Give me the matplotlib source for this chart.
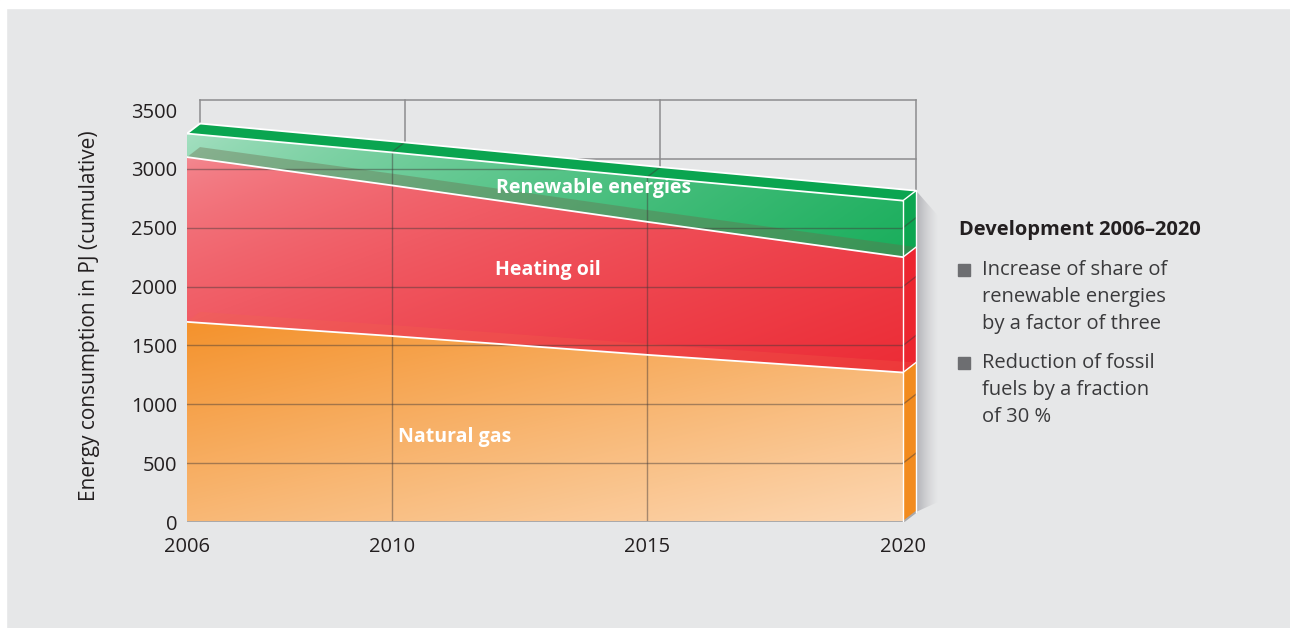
import matplotlib
matplotlib.use("Agg")
import matplotlib.pyplot as plt
import numpy as np
from matplotlib.patches import Polygon, Rectangle
from matplotlib.colors import to_rgba

plt.rcParams['font.family'] = ['Open Sans', 'DejaVu Sans']

# data (PJ, stacked)
years = [2006, 2010, 2015, 2020]
natural_gas = [1700, 1580, 1420, 1270]
heating_oil = [1400, 1280, 1130, 980]
renewables = [200, 280, 380, 480]
series_names = ['Natural gas', 'Heating oil', 'Renewable energies']
y_ticks = [0, 500, 1000, 1500, 2000, 2500, 3000, 3500]
x_ticks = [2006, 2010, 2015, 2020]
y_label = 'Energy consumption in PJ (cumulative)'
panel_title = 'Development 2006–2020'
bullets = [['Increase of share of', 'renewable energies', 'by a factor of three'],
           ['Reduction of fossil', 'fuels by a fraction', 'of 30 %']]

# styles: (front start, front end, gradient weights x/y, gamma), top face (colour, alpha), side face
front_styles = [('#f4922c', '#fcd7b2', 0.45, 0.55, 1.0),
                ('#f48a92', '#ec2c36', 0.55, 0.45, 0.65),
                ('#a6e0c2', '#1aae5c', 0.8, 0.2, 0.75)]
top_faces = [('#f36a4a', 0.22), ('#6a6a4a', 0.38), ('#0aa550', 1.0)]
side_colors = ['#f28b1e', '#ec2630', '#0ca651']
label_pos = [(2011.24, 722), (2013.06, 2141), (2013.94, 2837)]
text_col = '#231f20'

W, H = 1290, 628
px_year = 716 / 14
px_unit = 412 / 3500
DX = 13 / px_year
DY = 10 / px_unit


def gradient_fill(ax, verts, c_start, c_end, wx, wy, z, alpha=1.0, gamma=1.0):
    verts = np.asarray(verts, dtype=float)
    x0, y0 = verts.min(axis=0)
    x1, y1 = verts.max(axis=0)
    poly = Polygon(verts, closed=True, facecolor='none', edgecolor='none')
    ax.add_patch(poly)
    U, V = np.meshgrid(np.linspace(0, 1, 200), np.linspace(1, 0, 200))
    t = wx * U + wy * (1 - V)
    t = ((t - t.min()) / (t.max() - t.min())) ** gamma
    c0 = np.array(to_rgba(c_start))
    c1 = np.array(to_rgba(c_end))
    img = c0 + (c1 - c0) * t[..., None]
    img[..., 3] *= alpha
    im = ax.imshow(img, extent=(x0, x1, y0, y1), origin='upper', aspect='auto',
                   zorder=z, interpolation='bilinear')
    im.set_clip_path(poly)
    return poly


fig = plt.figure(figsize=(W / 100, H / 100), dpi=100, facecolor='#e6e7e8')
fig.patches.append(Rectangle((0, 1 - 8 / H), 1, 8 / H, transform=fig.transFigure,
                             color='white', zorder=0))
fig.patches.append(Rectangle((0, 0), 6 / W, 1, transform=fig.transFigure,
                             color='white', zorder=0))

ax = fig.add_axes([187 / W, (H - 522) / H, (960 - 187) / W, (522 - 85) / H])
xlim = (2006, 2006 + (960 - 187) / px_year)
ylim = (0, (522 - 85) / px_unit)
ax.set_facecolor('none')
for s in ax.spines.values():
    s.set_visible(False)

x = np.array(years, dtype=float)
layers = [np.array(natural_gas), np.array(heating_oil), np.array(renewables)]
cum = np.cumsum(layers, axis=0)
total = cum[-1]

# back wall
grid_col = '#8c8c8e'
for v in y_ticks[1:]:
    ax.plot([x[0] + DX, x[-1] + DX], [v + DY, v + DY], color=grid_col, lw=1.1, zorder=1)
for yr in x_ticks:
    ax.plot([yr + DX, yr + DX], [DY, y_ticks[-1] + DY], color=grid_col, lw=1.1, zorder=1)

# shadow to the right of the block
sh = [(x[-1] + DX, DY), (x[-1] + DX + 22 / px_year, DY + 10 / px_unit),
      (x[-1] + DX + 22 / px_year, total[-1] + DY - 25 / px_unit), (x[-1] + DX, total[-1] + DY)]
gradient_fill(ax, sh, (0.55, 0.55, 0.58, 0.6), (0.7, 0.7, 0.72, 0.0), 1, 0, 2)

# stacked prism layers
for i, vals in enumerate(layers):
    lo = cum[i] - vals
    hi = cum[i]
    c0, c1, wx, wy, gam = front_styles[i]
    front = list(zip(x, hi)) + list(zip(x[::-1], lo[::-1]))
    gradient_fill(ax, front, c0, c1, wx, wy, 10 + i, gamma=gam)
    # top face; lower ones show through the layer above
    top = list(zip(x, hi)) + list(zip(x[::-1] + DX, hi[::-1] + DY))
    tc, ta = top_faces[i]
    ax.add_patch(Polygon(top, closed=True, facecolor=tc, alpha=ta, edgecolor='none',
                         zorder=20 + i))
    side = [(x[-1], lo[-1]), (x[-1] + DX, lo[-1] + DY), (x[-1] + DX, hi[-1] + DY), (x[-1], hi[-1])]
    ax.add_patch(Polygon(side, closed=True, facecolor=side_colors[i], edgecolor='none',
                         zorder=15 + i))

# grid seen through the translucent block
outline = list(zip(x, total)) + [(x[-1], 0), (x[0], 0)]
clip = Polygon(outline, closed=True, facecolor='none', edgecolor='none')
ax.add_patch(clip)
front_grid = (0.25, 0.22, 0.22, 0.45)
for v in y_ticks[1:-1]:
    ln, = ax.plot([x[0], x[-1]], [v, v], color=front_grid, lw=1, zorder=25)
    ln.set_clip_path(clip)
    if v < total[-1]:
        ax.plot([x[-1], x[-1] + DX], [v, v + DY], color=front_grid, lw=1, zorder=25)
for yr in x_ticks[1:-1]:
    top_here = np.interp(yr, x, total)
    ax.plot([yr, yr], [0, top_here], color=front_grid, lw=1, zorder=25)
    ax.plot([yr, yr + DX], [top_here, top_here + DY], color=front_grid, lw=1, zorder=25)

# white edges
edge = dict(color='white', lw=1.3, zorder=28, solid_capstyle='round')
for i in range(len(layers)):
    ax.plot(x, cum[i], **edge)
    ax.plot([x[-1], x[-1] + DX], [cum[i][-1], cum[i][-1] + DY], color='white', lw=1, zorder=28)
ax.plot(x + DX, total + DY, **edge)
ax.plot([x[0], x[0] + DX], [total[0], total[0] + DY], **edge)
ax.plot([x[-1], x[-1]], [0, total[-1]], color='white', lw=1, zorder=28)
ax.plot([x[-1] + DX, x[-1] + DX], [DY, total[-1] + DY], color='white', lw=1, zorder=28)
ax.plot([x[0], x[-1], x[-1] + DX], [0, 0, DY], color='#a9a9ab', lw=1.4, zorder=27)

for name, (lx, ly) in zip(series_names, label_pos):
    ax.text(lx, ly, name, color='white', fontsize=14, fontweight='bold',
            ha='center', va='center', zorder=30)

ax.set_xlim(*xlim)
ax.set_ylim(*ylim)
ax.set_yticks(y_ticks)
ax.set_yticklabels([str(v) for v in y_ticks])
ax.set_xticks(x_ticks)
ax.set_xticklabels([str(v) for v in x_ticks])
ax.tick_params(axis='y', length=0, pad=7, labelsize=14.5, labelcolor=text_col)
ax.tick_params(axis='x', length=0, pad=11, labelsize=14.5, labelcolor=text_col)

fig.text(90 / W, 1 - 316 / H, y_label, rotation=90, ha='center', va='center',
         fontsize=15, color=text_col)

# side panel
fig.text(959 / W, 1 - 230 / H, panel_title, fontsize=14.5, fontweight='bold',
         color=text_col, ha='left', va='center')
line_y = 270
for group in bullets:
    fig.patches.append(Rectangle((958 / W, 1 - (line_y + 6) / H), 12 / W, 12 / H,
                                 transform=fig.transFigure, color='#6d6e71'))
    for line in group:
        fig.text(982 / W, 1 - line_y / H, line, fontsize=14.5, color='#3a3a3c',
                 ha='left', va='center')
        line_y += 27
    line_y += 12

fig.savefig('out.png', dpi=100, facecolor=fig.get_facecolor())
